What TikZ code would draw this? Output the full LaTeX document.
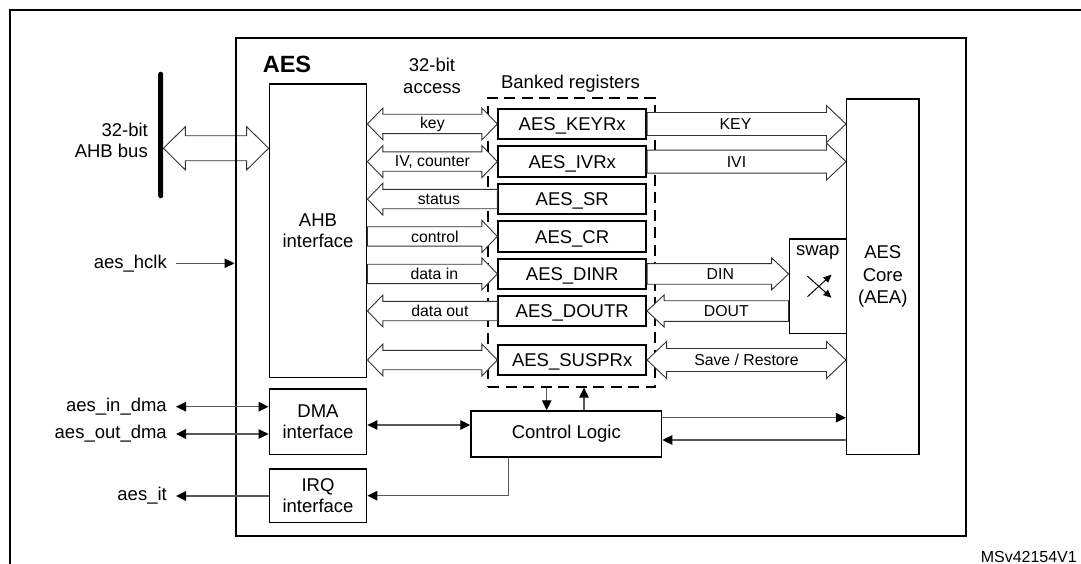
\documentclass[tikz,border=0pt]{standalone}
\usepackage{fontspec}
\setmainfont{Liberation Sans}
\usetikzlibrary{calc,arrows.meta}

\newcommand{\busw}{10pt}
\newcommand{\bushw}{16pt}
\newcommand{\bushl}{15.5pt}
\newcommand{\busR}[4][0pt]{\draw[bus] let \p1=(#2), \p2=(#3) in
  (\x1,\y1+\busw) -- (\x2-\bushl,\y1+\busw) -- (\x2-\bushl,\y1+\bushw) -- (\x2,\y1)
  -- (\x2-\bushl,\y1-\bushw) -- (\x2-\bushl,\y1-\busw) -- (\x1,\y1-\busw) -- cycle
  ($(\x1,\y1)!.5!(\x2,\y1)$) node[lbl,xshift=#1] {#4};}
\newcommand{\busL}[4][0pt]{\draw[bus] let \p1=(#2), \p2=(#3) in
  (\x2,\y1+\busw) -- (\x1+\bushl,\y1+\busw) -- (\x1+\bushl,\y1+\bushw) -- (\x1,\y1)
  -- (\x1+\bushl,\y1-\bushw) -- (\x1+\bushl,\y1-\busw) -- (\x2,\y1-\busw) -- cycle
  ($(\x1,\y1)!.5!(\x2,\y1)$) node[lbl,xshift=#1] {#4};}
\newcommand{\busB}[4][0pt]{\draw[bus] let \p1=(#2), \p2=(#3) in
  (\x1,\y1) -- (\x1+\bushl,\y1+\bushw) -- (\x1+\bushl,\y1+\busw)
  -- (\x2-\bushl,\y1+\busw) -- (\x2-\bushl,\y1+\bushw) -- (\x2,\y1)
  -- (\x2-\bushl,\y1-\bushw) -- (\x2-\bushl,\y1-\busw)
  -- (\x1+\bushl,\y1-\busw) -- (\x1+\bushl,\y1-\bushw) -- cycle
  ($(\x1,\y1)!.5!(\x2,\y1)$) node[lbl,xshift=#1] {#4};}

\begin{document}
\begin{tikzpicture}[x=1pt,y=-1pt,
  txt/.style={font=\fontsize{18.5}{21.5}\selectfont, align=center, inner sep=0pt},
  lbl/.style={font=\fontsize{15.8}{18}\selectfont, inner sep=0pt},
  box/.style={txt, draw, line width=1.4pt},
  reg/.style={box, line width=2pt, minimum width=147.7pt, minimum height=30.5pt, text height=13.2pt, text depth=0pt},
  side/.style={txt, anchor=east, inner xsep=9pt},
  bus/.style={draw=black!80, line width=0.9pt, fill=white},
  wire/.style={draw=black!65, line width=1.1pt},
  >={Triangle[length=10pt,width=9.5pt,color=black]}]
\useasboundingbox (0,0) rectangle (1081,564);
\draw[line width=2pt] (9.5,570) -- (9.5,10) -- (1090,10);

% AHB side
\node[box, minimum width=97.4pt, minimum height=293.3pt] (ahb) at (318,230.7) {AHB\\interface};
\node[fill, minimum width=5pt, minimum height=126.6pt, inner sep=0pt, rounded corners=2.5pt] (bar) at (160.7,135) {};
\node[txt, align=right, anchor=east] (buslbl) at (148,140.5) {32-bit\\AHB bus};
\coordinate (busy) at (0,148.3);
\def\busw{12.5pt}\def\bushw{21.7pt}\def\bushl{22pt}
\busB{bar.east |- busy}{ahb.west |- busy}{}

% AES block
\node[draw, line width=2.4pt, minimum width=730.3pt, minimum height=497.7pt] (aes) at (600.85,287.15) {};
\node[txt, font=\fontsize{23.5}{26}\selectfont\bfseries] (aeslbl) at (287,64) {AES};
\node[box, minimum width=97.4pt, minimum height=65.3pt] (dma) at (318,421.7) {DMA\\interface};
\node[box, minimum width=97.4pt, minimum height=53.3pt] (irq) at (318,495.7) {IRQ\\interface};
\node[txt] (acc) at (432,76) {32-bit\\access};

% banked registers
\node[draw, line width=2pt, dash pattern=on 11pt off 6.5pt, minimum width=166.7pt, minimum height=288.7pt] (bank) at (571.7,242.35) {};
\node[txt] (banklbl) at (570.5,84) {Banked registers};
\node[reg] (keyr) at (572.2,124) {AES\_KEYRx};
\node[reg] (ivr) at (572.2,161.6) {AES\_IVRx};
\node[reg] (sr) at (572.2,199.1) {AES\_SR};
\node[reg] (cr) at (572.2,236.4) {AES\_CR};
\node[reg] (dinr) at (572.2,273.9) {AES\_DINR};
\node[reg] (doutr) at (572.2,311) {AES\_DOUTR};
\node[reg] (suspr) at (572.2,360) {AES\_SUSPRx};

% core side
\node[box, font=\fontsize{18.5}{22.5}\selectfont, minimum width=72.3pt, minimum height=355.3pt] (core) at (882.8,276.7) {AES\\Core\\(AEA)};
\node[box, minimum width=57.4pt, minimum height=94.3pt] (swap) at (818,286.2) {};
\node[txt] (swaplbl) at (817.7,252) {swap};
\draw[line width=1pt, -{Triangle[length=8pt,width=7pt]}] ($(swap)+(-10.5,10.5)$) -- ($(swap)+(13.5,-11.5)$);
\draw[line width=1pt, -{Triangle[length=8pt,width=7pt]}] ($(swap)+(-10.5,-10)$) -- ($(swap)+(13.5,11.5)$);
\node[box, minimum width=190.7pt, minimum height=46pt] (cl) at (566.3,434) {Control Logic};

% AHB interface to registers
\def\busw{9.7pt}\def\bushw{16pt}\def\bushl{15.5pt}
\busB{ahb.east |- keyr}{keyr.west}{key}
\busB{ahb.east |- ivr}{ivr.west}{IV, counter}
\busL[6.5pt]{ahb.east |- sr}{sr.west}{status}
\busR[2.5pt]{ahb.east |- cr}{cr.west}{control}
\busR[2pt]{ahb.east |- dinr}{dinr.west}{data in}
\busL[7.5pt]{ahb.east |- doutr}{doutr.west}{data out}
\busB{ahb.east |- suspr}{suspr.west}{}

% registers to core
\def\busw{11.5pt}\def\bushw{18.5pt}\def\bushl{19.5pt}
\busR[-11pt]{keyr.east}{core.west |- keyr}{KEY}
\busR[-10pt]{ivr.east}{core.west |- ivr}{IVI}
\busB{suspr.east}{core.west |- suspr}{Save / Restore}
\def\busw{10.3pt}\def\bushw{16pt}\def\bushl{17pt}
\busR[2.5pt]{dinr.east}{swap.west |- dinr}{DIN}
\busL[8.5pt]{doutr.east}{swap.west |- doutr}{DOUT}

% signals
\node[side] (hclk) at (176,263.3) {aes\_hclk};
\draw[wire,->] (hclk.east) -- (aes.west |- hclk.east);
\node[side] (indma) at (176,406.7) {aes\_in\_dma};
\draw[wire,<->] (indma.east) -- (dma.west |- indma.east);
\node[side] (outdma) at (176,434) {aes\_out\_dma};
\draw[wire,<->] (outdma.east) -- (dma.west |- outdma.east);
\node[side] (it) at (176,496) {aes\_it};
\draw[wire,->] (irq.west |- it.east) -- (it.east);

% control logic
\path ([xshift=-25pt]bank.south) coordinate (dn) ([xshift=12.3pt]bank.south) coordinate (up);
\draw[wire,->] (dn) -- (dn |- cl.north);
\draw[wire,->] (up |- cl.north) -- (up);
\draw[wire,<->] ($(dma.east)+(0,3.3)$) coordinate (dc) -- (cl.west |- dc);
\path ([yshift=16.3pt]cl.east) coordinate (c1) ([yshift=-6pt]cl.east) coordinate (c2);
\draw[wire,->] (c1) -- (c1 -| core.west);
\draw[wire,->] (c2 -| core.west) -- (c2);
\draw[wire,->] ([xshift=-58pt]cl.south) |- (irq.east);

\node[lbl, anchor=base east, font=\fontsize{16}{18}\selectfont] (ref) at (1077,562.4) {MSv42154V1};
\end{tikzpicture}
\end{document}
